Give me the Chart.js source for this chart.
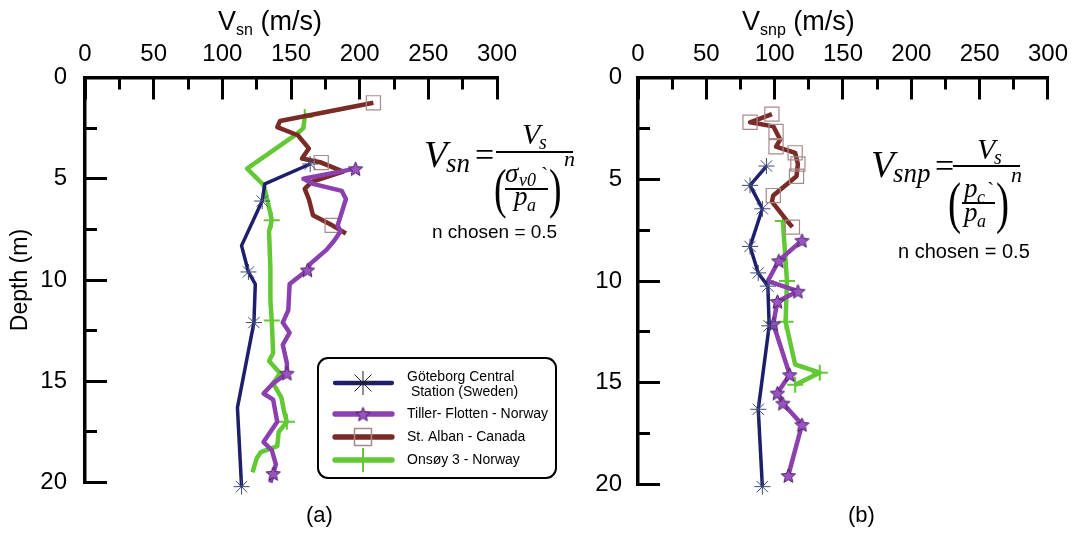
<!DOCTYPE html>
<html><head><meta charset="utf-8">
<script src="https://cdn.jsdelivr.net/npm/chart.js@4.4.1/dist/chart.umd.min.js"></script>
<style>
html,body{margin:0;padding:0;background:#fff;width:1079px;height:537px;overflow:hidden;}
#wrap{position:relative;width:1079px;height:537px;overflow:hidden;}
canvas{position:absolute;top:0;}
.t{position:absolute;white-space:nowrap;line-height:1;color:#000;}
.bar{position:absolute;background:#000;}
</style></head><body><div id="wrap">
<canvas id="ca" width="565" height="537" style="left:0;width:565px;height:537px"></canvas>
<canvas id="cb" width="559" height="537" style="left:540px;width:559px;height:537px"></canvas>
</div>
<script>
// ---------- data ----------
const velTicks = [0,25,50,75,100,125,150,175,200,225,250,275,300];
const velLabels = [0,50,100,150,200,250,300];
const depthTicks = [0,2.5,5,7.5,10,12.5,15,17.5,20];
const depthLabels = [0,5,10,15,20];
const seriesNames = ['Göteborg Central\n Station (Sweden)','Tiller- Flotten - Norway','St. Alban - Canada','Onsøy 3 - Norway'];

// (a) Vsn
const gotA_v = [164,131,129,114,119,124,123,111,114];
const gotA_d = [4.27,5.25,6.1,8.3,9.6,10.2,12.1,16.3,20.2];
const gotA_mk = [1,0,1,0,1,0,1,0,1];
const tilA_v = [197,159,166,187,190,184,186,181,176,164,162,149,148,144,149,144,147,147,137,130,137,140,130,136,139,137,135];
const tilA_d = [4.5,5.0,5.25,5.6,6.0,7.3,7.6,8.1,8.5,9.2,9.5,10.2,11.5,12.1,12.6,13.2,14.1,14.6,15.1,15.6,15.9,17.0,18.0,18.4,19.1,19.55,20.0];
const tilA_mk = [1,0,0,0,0,0,0,0,0,0,1,0,0,0,0,0,0,1,0,0,0,0,0,0,0,1,0];
const albA_v = [210,142,140,155,163,158,172,188,165,160,163,166,180,190];
const albA_d = [1.25,2.15,2.45,2.85,3.5,4.0,4.2,4.65,5.15,5.5,6.0,6.8,7.3,7.7];
const albA_mk = [1,0,0,0,0,0,1,0,0,0,0,0,1,0];
const onsA_v = [162,160,159,154,118,130,133,136,134,135,135,136,137,134,142,137,143,145,147,141,140,128,125,122];
const onsA_d = [1.8,1.95,2.5,2.8,4.5,5.3,6.1,7.05,7.6,9.4,11.0,12.0,13.6,14.0,14.6,15.1,15.8,16.5,17.0,17.5,18.2,18.5,18.8,19.5];
const onsA_mk = [0,1,0,0,0,0,0,1,0,0,0,1,0,0,0,0,0,0,1,0,0,0,0,0];

// (b) Vsnp
const gotB_v = [94,82,91,82,88,95,96,88,91];
const gotB_d = [4.35,5.3,6.45,8.3,9.6,10.25,12.2,16.3,20.1];
const gotB_mk = [1,1,1,1,1,1,1,1,1];
const tilB_v = [120,103,95,117,102,99,111,102,106,120,110];
const tilB_d = [8.0,9.0,10.0,10.5,11.0,12.1,14.6,15.5,16.0,17.05,19.55];
const tilB_mk = [1,1,0,1,1,1,1,1,1,1,1];
const albB_v = [98,82,99,101,104,101,115,117,116,99,98,111,113];
const albB_d = [1.8,2.2,2.4,2.65,3.05,3.4,3.7,4.25,4.85,5.8,6.1,7.2,7.35];
const albB_mk = [1,1,0,1,0,1,1,1,1,1,0,0,1];
const onsB_v = [106,109,108,115,133,115];
const onsB_d = [7.05,10.0,12.0,14.1,14.5,15.1];
const onsB_mk = [1,1,1,0,1,1];

// ---------- styles ----------
const SANS = '"Liberation Sans", Arial, sans-serif';
const SERIF = '"Liberation Serif", "DejaVu Serif", serif';
const NAVY = '#1e1e6c', PURPLE = '#8c40b0', BROWN = '#7a2b25', GREEN = '#62c934';

function makeStar(size, fill, stroke) {
  const c = document.createElement('canvas'); c.width = c.height = size;
  const g = c.getContext('2d'); const r = size/2 - 1, ri = r*0.45, cx = size/2, cy = size/2 + 0.8;
  g.beginPath();
  for (let k = 0; k < 10; k++) { const a = -Math.PI/2 + k*Math.PI/5; const rr = k % 2 ? ri : r; g.lineTo(cx + rr*Math.cos(a), cy + rr*Math.sin(a)); }
  g.closePath(); g.fillStyle = fill; g.fill(); g.strokeStyle = stroke; g.lineWidth = 1; g.stroke();
  return c;
}
const starImg = makeStar(17, '#9a52c4', '#4a2060');

const pts = (v, d) => v.map((x, i) => ({x: x, y: d[i]}));
function mkDatasets(g, t, a, o) {
  const base = {showLine: true, fill: false, tension: 0, borderJoinStyle: 'round', clip: false};
  return [
    Object.assign({}, base, {label: seriesNames[0], data: pts(g[0], g[1]), borderColor: NAVY, borderWidth: 3.5,
      pointStyle: 'star', pointRadius: g[2].map(m => m ? 8 : 0), pointBorderColor: '#3d4a78', pointBorderWidth: 1, pointBackgroundColor: 'rgba(0,0,0,0)'}),
    Object.assign({}, base, {label: seriesNames[1], data: pts(t[0], t[1]), borderColor: PURPLE, borderWidth: 4.5,
      pointStyle: starImg, pointRadius: t[2].map(m => m ? 7 : 0), pointBorderColor: '#4a2060', pointBorderWidth: 1, pointBackgroundColor: '#9a52c4'}),
    Object.assign({}, base, {label: seriesNames[2], data: pts(a[0], a[1]), borderColor: BROWN, borderWidth: 4.5,
      pointStyle: 'rect', pointRadius: a[2].map(m => m ? 10 : 0), pointBorderColor: '#a88a8a', pointBorderWidth: 1.2, pointBackgroundColor: 'rgba(0,0,0,0)'}),
    Object.assign({}, base, {label: seriesNames[3], data: pts(o[0], o[1]), borderColor: GREEN, borderWidth: 4.5,
      pointStyle: 'cross', pointRadius: o[2].map(m => m ? 8 : 0), pointBorderColor: GREEN, pointBorderWidth: 2, pointBackgroundColor: GREEN})
  ];
}

function makeOptions(yWidth, rightPad, yLabelPad, showTitle) {
  return {
    responsive: false, animation: false, events: [],
    layout: {padding: {left: 0, top: 0, right: rightPad, bottom: 49}},
    plugins: {legend: {display: false}, tooltip: {enabled: false}},
    scales: {
      x: {
        type: 'linear', position: 'top', min: 0, max: 300,
        afterFit: s => { s.height = 77.5; },
        afterBuildTicks: s => { s.ticks = velTicks.map(v => ({value: v})); },
        ticks: {autoSkip: false, maxRotation: 0, color: '#000', padding: 31,
          font: {family: SANS, size: 24},
          callback: v => velLabels.includes(v) ? String(v) : ''},
        grid: {drawOnChartArea: false, drawTicks: true, tickLength: -22, tickWidth: 3, tickColor: '#000',
          tickBorderDash: c => (c.tick && velLabels.includes(c.tick.value)) ? [] : [0, 10, 12, 0]},
        border: {display: true, color: '#000', width: 3.5}
      },
      y: {
        type: 'linear', position: 'left', reverse: true, min: 0, max: 20,
        afterFit: s => { s.width = yWidth; },
        afterBuildTicks: s => { s.ticks = depthTicks.map(v => ({value: v})); },
        ticks: {autoSkip: false, color: '#000', padding: yLabelPad,
          font: {family: SANS, size: 24},
          callback: v => depthLabels.includes(v) ? String(v) : ''},
        grid: {drawOnChartArea: false, drawTicks: true, tickLength: -22, tickWidth: 3, tickColor: '#000',
          tickBorderDash: c => (c.tick && depthLabels.includes(c.tick.value)) ? [] : [0, 10, 12, 0]},
        border: {display: true, color: '#000', width: 3.5},
        title: {display: showTitle, text: 'Depth (m)', color: '#000', font: {family: SANS, size: 23}, padding: {top: 7, bottom: 0}}
      }
    }
  };
}

const legendPlugin = {
  id: 'boxLegend',
  afterDraw(chart) {
    const ctx = chart.ctx;
    ctx.save();
    ctx.setLineDash([]);
    ctx.lineWidth = 2; ctx.strokeStyle = '#000';
    ctx.beginPath();
    if (ctx.roundRect) ctx.roundRect(318, 358, 238, 120, 10); else ctx.rect(318, 358, 238, 120);
    ctx.stroke();
    const rows = [383, 414, 437, 460];
    const lr = [12, 8, 12, 12];
    chart.data.datasets.forEach((ds, i) => {
      const y = rows[i];
      ctx.strokeStyle = ds.borderColor; ctx.lineWidth = ds.borderWidth + 0.8; ctx.lineCap = 'round';
      ctx.beginPath(); ctx.moveTo(335, y); ctx.lineTo(392, y); ctx.stroke();
      ctx.lineCap = 'butt';
      ctx.strokeStyle = i === 0 ? '#222' : ds.pointBorderColor; ctx.fillStyle = ds.pointBackgroundColor; ctx.lineWidth = i === 2 ? 1.5 : ds.pointBorderWidth;
      if (Chart.helpers && Chart.helpers.drawPoint) {
        Chart.helpers.drawPoint(ctx, {pointStyle: ds.pointStyle, radius: lr[i], borderWidth: ctx.lineWidth, rotation: 0}, 363, y);
      }
      ctx.fillStyle = '#000'; ctx.font = '14px ' + SANS; ctx.textBaseline = 'middle'; ctx.textAlign = 'left';
      const lines = ds.label.split('\n');
      if (lines.length === 1) ctx.fillText(lines[0], 407, y);
      else { ctx.fillText(lines[0], 407, y - 6); ctx.fillText(lines[1], 407, y + 9); }
    });
    ctx.restore();
  }
};

new Chart(document.getElementById('ca'), {
  type: 'scatter',
  data: {datasets: mkDatasets([gotA_v, gotA_d, gotA_mk], [tilA_v, tilA_d, tilA_mk], [albA_v, albA_d, albA_mk], [onsA_v, onsA_d, onsA_mk])},
  options: makeOptions(85, 68, 40, true),
  plugins: [legendPlugin]
});
new Chart(document.getElementById('cb'), {
  type: 'scatter',
  data: {datasets: mkDatasets([gotB_v, gotB_d, gotB_mk], [tilB_v, tilB_d, tilB_mk], [albB_v, albB_d, albB_mk], [onsB_v, onsB_d, onsB_mk])},
  options: makeOptions(98, 51, 38, false)
});

// ---------- text overlays ----------
const wrap = document.getElementById('wrap');
function put(html, x, base, fs, serif, italic, extra) {
  const d = document.createElement('div'); d.className = 't';
  d.style.fontFamily = serif ? SERIF : SANS;
  d.style.fontSize = fs + 'px';
  if (italic) d.style.fontStyle = 'italic';
  d.style.left = x + 'px';
  d.style.top = (base - fs * (serif ? 0.8375 : 0.8465)) + 'px';
  d.innerHTML = html;
  if (extra) Object.assign(d.style, extra);
  wrap.appendChild(d);
}
function bar(x1, x2, y, h) {
  const b = document.createElement('div'); b.className = 'bar';
  Object.assign(b.style, {left: x1 + 'px', top: (y - h/2) + 'px', width: (x2 - x1) + 'px', height: h + 'px'});
  wrap.appendChild(b);
}
const subS = 'font-size:16px;position:relative;top:5px';
put('V<span style="' + subS + '">sn</span>&nbsp;(m/s)', 218, 31, 27, false, false);
put('V<span style="' + subS + '">snp</span>&nbsp;(m/s)', 742, 31, 27, false, false);
put('(a)', 306, 523, 22, false, false);
put('(b)', 848, 523, 22, false, false);

const px = {transform: 'scaleX(0.7)', transformOrigin: 'left'};
// left formula
put('V', 424, 167, 38, true, true);
put('sn', 446, 173, 27, true, true);
put('=', 475, 166, 34, true, false);
bar(496, 573, 152, 2);
put('V', 522, 144, 30, true, true);
put('s', 539, 149, 20, true, true);
put('(', 494, 207, 54, true, false, px);
put('σ', 505, 183, 27, true, true);
put('v0', 519, 186, 18, true, true);
put('`', 541, 182, 22, true, false);
bar(505, 548, 189, 1.5);
put('p', 514, 206, 27, true, true);
put('a', 527, 211, 18, true, true);
put(')', 549, 207, 54, true, false, px);
put('n', 564, 166, 22, true, true);
put('n chosen = 0.5', 432, 238, 19, false, false);
// right formula
put('V', 871, 177, 38, true, true);
put('snp', 893, 183, 27, true, true);
put('=', 935, 177, 34, true, false);
bar(953, 1020, 166, 2);
put('V', 977, 159, 30, true, true);
put('s', 994, 164, 20, true, true);
put('(', 948, 222, 56, true, false, px);
put('p', 964, 198, 27, true, true);
put('c', 977, 203, 18, true, true);
put('`', 987, 197, 22, true, false);
bar(962, 995, 203, 1.5);
put('p', 964, 222, 27, true, true);
put('a', 977, 227, 18, true, true);
put(')', 996, 222, 56, true, false, px);
put('n', 1011, 182, 22, true, true);
put('n chosen = 0.5', 898, 258, 20, false, false);
</script>
</body></html>
